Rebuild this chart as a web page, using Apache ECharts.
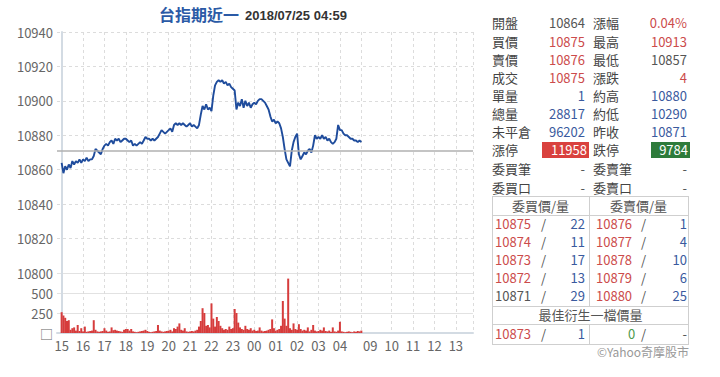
<!DOCTYPE html>
<html>
<head>
<meta charset="utf-8">
<script src="https://cdn.jsdelivr.net/npm/echarts@6/dist/echarts.min.js"></script>
<style>
body { margin: 0; background: #fff; font-family: "Noto Sans CJK TC", sans-serif; }
#chart { position: absolute; left: 0; top: 0; width: 720px; height: 377px; }
#panel { position: absolute; left: 0; top: 0; width: 720px; height: 377px; font-size: 13px; color: #444; pointer-events: none; }
#panel .t { position: absolute; white-space: nowrap; height: 18px; line-height: 18px; }
#panel .ln { position: absolute; background: #cfcfcf; }
.r { color: #cc4b4b; } .b { color: #3a5a9e; } .g { color: #555; } .gr { color: #4c9a4c; }
.box { color: #fff; text-align: right; padding-right: 2px; }
</style>
</head>
<body>
<div id="chart"></div>
<div id="panel"></div>
<script>
// 近一 夜盤 15:00 ~ 04:59, 5分鐘一點
var stepMin = 5;
var priceVals = [
    10864, 10858, 10862, 10860, 10863, 10861, 10865, 10863, 10865, 10864,
    10866, 10864, 10866, 10865, 10867, 10865, 10866, 10866, 10868, 10872,
    10871, 10870, 10869, 10872, 10874, 10875, 10874, 10876, 10877, 10875,
    10878, 10877, 10878, 10876, 10877, 10878, 10878, 10877, 10876, 10877,
    10874, 10875, 10874, 10875, 10876, 10875, 10877, 10879, 10878, 10878,
    10877, 10878, 10877, 10878, 10879, 10881, 10883, 10882, 10881, 10882,
    10883, 10884, 10882, 10886, 10887, 10886, 10887, 10886, 10887, 10886,
    10885, 10886, 10887, 10885, 10886, 10885, 10884, 10886, 10892, 10897,
    10895, 10898, 10895, 10896, 10894, 10903, 10909, 10911, 10912, 10911,
    10912, 10910, 10911, 10909, 10910, 10908, 10907, 10906, 10895, 10899,
    10897, 10901, 10896, 10900, 10897, 10899, 10896, 10898, 10899, 10898,
    10900, 10901, 10901, 10900, 10899, 10897, 10895, 10891, 10888, 10889,
    10887, 10888, 10887, 10884, 10879, 10872, 10866, 10864, 10862, 10871,
    10876, 10879, 10881, 10869, 10866, 10868, 10870, 10869, 10871, 10872,
    10870, 10874, 10880, 10878, 10879, 10878, 10880, 10878, 10879, 10877,
    10878, 10876, 10875, 10876, 10878, 10886, 10883, 10883, 10881, 10880,
    10880, 10879, 10878, 10878, 10877, 10877, 10876, 10877, 10876
];
var volVals = [
    260, 220, 190, 150, 160, 40, 60, 70, 30, 100,
    25, 60, 20, 80, 15, 20, 25, 30, 160, 40,
    20, 15, 20, 25, 60, 30, 15, 20, 70, 35,
    40, 30, 25, 20, 15, 40, 50, 50, 30, 50,
    20, 15, 10, 15, 20, 25, 30, 40, 25, 15,
    10, 15, 20, 25, 100, 30, 20, 15, 20, 25,
    30, 40, 20, 60, 50, 80, 120, 40, 30, 60,
    20, 15, 20, 25, 20, 30, 40, 80, 150, 310,
    250, 90, 100, 70, 370, 180, 80, 200, 150, 90,
    60, 40, 50, 40, 80, 50, 60, 300, 250, 130,
    70, 50, 40, 90, 50, 40, 60, 30, 40, 25,
    30, 70, 30, 20, 25, 30, 40, 50, 170, 60,
    30, 40, 50, 90, 400, 180, 90, 680, 60, 40,
    120, 50, 40, 110, 50, 30, 40, 30, 70, 20,
    40, 100, 30, 20, 25, 40, 30, 70, 25, 20,
    30, 15, 70, 20, 15, 30, 140, 20, 15, 10,
    15, 20, 15, 10, 20, 15, 25, 20, 30
];
var prevClose = 10871;
// 時間軸 (分鐘, 15:00 = 0; 日盤 08:45 接在 05:00 後)
var labelMins = [0, 60, 120, 180, 240, 300, 360, 420, 480, 540, 600, 660, 720, 780, 865, 925, 985, 1045, 1105];
var labelText = ['15', '16', '17', '18', '19', '20', '21', '22', '23', '00', '01', '02', '03', '04', '09', '10', '11', '12', '13'];
var gridMins = [0, 60, 120, 180, 240, 300, 360, 420, 480, 540, 600, 660, 720, 780, 840, 925, 985, 1045, 1105, 1153];

var priceData = priceVals.map(function (v, i) { return [i * stepMin, v]; });
var volData = volVals.map(function (v, i) { return [i * stepMin, v]; });

var axisFont = { color: '#666', fontSize: 13, fontFamily: 'Noto Sans CJK TC' };
var dashLine = { color: '#dcdcdc', type: [3, 3], width: 1 };

var myChart = echarts.init(document.getElementById('chart'), null, { renderer: 'svg' });
var option = {
    animation: false,
    title: [
        {
            text: '台指期近一', left: 154, top: 1,
            textStyle: { color: '#2b5aa6', fontSize: 16, fontWeight: 'bold', fontFamily: 'Noto Sans CJK TC' }
        },
        {
            text: '2018/07/25 04:59', left: 240, top: 4,
            textStyle: { color: '#333', fontSize: 13, fontWeight: 'bold', fontFamily: 'Liberation Sans' }
        }
    ],
    grid: [
        { left: 57, top: 32, width: 416, height: 241 },
        { left: 57, top: 273, width: 416, height: 60 }
    ],
    xAxis: [
        {
            type: 'value', gridIndex: 0, min: -13, max: 1153,
            axisLine: { show: false }, axisLabel: { show: false },
            axisTick: { show: false, customValues: gridMins },
            splitLine: { show: true, lineStyle: dashLine }
        },
        {
            type: 'value', gridIndex: 1, min: -13, max: 1153,
            axisLine: { show: true, lineStyle: { color: '#d3dbe3', width: 2 } },
            axisTick: { show: false, customValues: gridMins },
            axisLabel: Object.assign({
                customValues: labelMins,
                margin: 6,
                formatter: function (v) { return labelText[labelMins.indexOf(v)]; }
            }, axisFont),
            splitLine: { show: true, lineStyle: dashLine }
        }
    ],
    yAxis: [
        {
            type: 'value', gridIndex: 0, min: 10800, max: 10940, interval: 20,
            axisLine: { show: true, lineStyle: { color: '#d3dbe3', width: 2 } },
            axisTick: { show: false },
            axisLabel: Object.assign({ margin: 4, formatter: function (v) { return String(v); } }, axisFont),
            splitLine: { show: true, lineStyle: dashLine }
        },
        {
            type: 'value', gridIndex: 1, min: 0, max: 750, interval: 250,
            axisLine: { show: true, lineStyle: { color: '#d3dbe3', width: 2 } },
            axisTick: { show: false },
            axisLabel: Object.assign({
                margin: 4, showMaxLabel: false,
                formatter: function (v) { return v === 0 ? '□' : String(v); }
            }, axisFont),
            splitLine: { show: true, lineStyle: { color: '#e2e2e2', width: 1 } }
        }
    ],
    series: [
        {
            type: 'line', xAxisIndex: 0, yAxisIndex: 0,
            data: priceData, showSymbol: false,
            lineStyle: { color: '#1f4c9c', width: 1.9 },
            markLine: {
                silent: true, symbol: 'none', label: { show: false },
                lineStyle: { color: '#b0b0b0', type: 'solid', width: 1.5 },
                data: [{ yAxis: prevClose }]
            }
        },
        {
            type: 'bar', xAxisIndex: 1, yAxisIndex: 1,
            data: volData, barWidth: 2,
            itemStyle: { color: '#d63c3c' }
        }
    ]
};
myChart.setOption(option);

// 右側報價
var quoteRows = [
    ['開盤', '10864', 'g', '漲幅', '0.04%', 'r'],
    ['買價', '10875', 'r', '最高', '10913', 'r'],
    ['賣價', '10876', 'r', '最低', '10857', 'g'],
    ['成交', '10875', 'r', '漲跌', '4', 'r'],
    ['單量', '1', 'b', '約高', '10880', 'b'],
    ['總量', '28817', 'b', '約低', '10290', 'b'],
    ['未平倉', '96202', 'b', '昨收', '10871', 'b'],
    ['漲停', '11958', 'redbox', '跌停', '9784', 'greenbox'],
    ['委買筆', '-', 'g', '委賣筆', '-', 'g'],
    ['委買口', '-', 'g', '委賣口', '-', 'g']
];
var bidRows = [['10875', '22', 'r'], ['10874', '11', 'r'], ['10873', '17', 'r'], ['10872', '13', 'r'], ['10871', '29', 'g']];
var askRows = [['10876', '1', 'r'], ['10877', '4', 'r'], ['10878', '10', 'r'], ['10879', '6', 'r'], ['10880', '25', 'r']];
var bestRow = ['10873', '1', '0', '-'];

var panel = document.getElementById('panel');
function txt(s, cls, css) {
    var d = document.createElement('div');
    d.className = 't ' + (cls || '');
    d.textContent = s;
    for (var k in css) d.style[k] = css[k];
    panel.appendChild(d);
    return d;
}
function line(l, t, w, h) {
    var d = document.createElement('div');
    d.className = 'ln';
    d.style.left = l + 'px'; d.style.top = t + 'px';
    d.style.width = w + 'px'; d.style.height = h + 'px';
    panel.appendChild(d);
}
var rowY = [23, 42, 60, 78, 96, 114, 132, 150, 169, 188];
quoteRows.forEach(function (r, i) {
    var top = (rowY[i] - 9) + 'px';
    txt(r[0], '', { left: '492px', top: top });
    txt(r[3], '', { left: '593px', top: top });
    if (r[2] === 'redbox') {
        txt(r[1], 'box', { left: '542px', width: '45px', top: (rowY[i] - 8) + 'px', height: '16px', lineHeight: '16px', background: '#d9413e' });
    } else {
        txt(r[1], r[2], { right: '135px', top: top });
    }
    if (r[5] === 'greenbox') {
        txt(r[4], 'box', { left: '651px', width: '37px', top: (rowY[i] - 8) + 'px', height: '16px', lineHeight: '16px', background: '#2e7b3b' });
    } else {
        txt(r[4], r[5], { right: '33px', top: top });
    }
});

// 委買/委賣 表格
line(492, 196, 197, 1); line(492, 215, 197, 1); line(492, 306, 197, 1);
line(492, 324, 197, 1); line(492, 344, 197, 1);
line(492, 196, 1, 148); line(688, 196, 1, 148);
line(589, 196, 1, 110); line(589, 324, 1, 20);
txt('委買價/量', '', { left: '492px', width: '97px', textAlign: 'center', top: '197px', color: '#555' });
txt('委賣價/量', '', { left: '589px', width: '99px', textAlign: 'center', top: '197px', color: '#555' });
var bookY = [224, 242, 260, 278, 296];
bidRows.forEach(function (r, i) {
    var top = (bookY[i] - 9) + 'px';
    txt(r[0], r[2], { left: '495px', top: top });
    txt('/', 'g', { left: '541px', top: top });
    txt(r[1], 'b', { right: '135px', top: top });
    var a = askRows[i];
    txt(a[0], a[2], { left: '596px', top: top });
    txt('/', 'g', { left: '641px', top: top });
    txt(a[1], 'b', { right: '33px', top: top });
});
txt('最佳衍生一檔價量', '', { left: '492px', width: '197px', textAlign: 'center', top: '306px', color: '#555' });
txt(bestRow[0], 'r', { left: '495px', top: '325px' });
txt('/', 'g', { left: '541px', top: '325px' });
txt(bestRow[1], 'b', { right: '135px', top: '325px' });
txt(bestRow[2], 'gr', { left: '628px', top: '325px' });
txt('/', 'g', { left: '641px', top: '325px' });
txt(bestRow[3], 'g', { right: '33px', top: '325px' });
txt('©Yahoo奇摩股市', '', { right: '31px', top: '343px', color: '#999', fontSize: '12px' });
</script>
</body>
</html>
